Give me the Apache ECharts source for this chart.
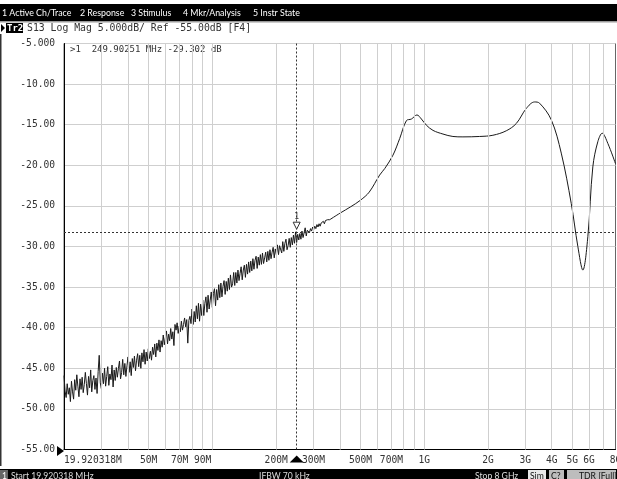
<!DOCTYPE html>
<html><head><meta charset="utf-8">
<script src="https://cdn.jsdelivr.net/npm/echarts@6/dist/echarts.min.js"></script>
<style>html,body{margin:0;padding:0;background:#fff;overflow:hidden}#c{width:617px;height:479px}</style>
</head><body><div id="c"></div>
<script>
// ---- sweep / axis definitions ----
const startHz = 19920318;
const stopHz = 8e9;
const gridFreqs = [30e6,40e6,50e6,60e6,70e6,80e6,90e6,100e6,200e6,300e6,400e6,500e6,600e6,700e6,800e6,900e6,1e9,2e9,3e9,4e9,5e9,6e9,7e9];
const labelFreqs = [19920318,50e6,70e6,90e6,200e6,300e6,500e6,700e6,1e9,2e9,3e9,4e9,5e9,6e9,8e9];
const labelTexts = ['19.920318M','50M','70M','90M','200M','300M','500M','700M','1G','2G','3G','4G','5G','6G','8G'];
const yMin = -55, yMax = -5, yStep = 5;

// ---- trace: noisy low-frequency segment, on a log sweep grid ----
const noiseStartMHz = 19.920318, noiseStopMHz = 358;
const noiseDb = [
-45.9,-47.8,-48.6,-46.9,-48.2,-47.4,-49.1,-46.6,-47.9,-48.8,
-46.4,-47.7,-45.8,-47.2,-48.5,-46.3,-47.6,-46.1,-48.0,-47.0,
-45.5,-46.9,-48.3,-46.0,-47.4,-45.2,-47.9,-46.5,-45.9,-47.6,
-46.2,-48.1,-45.4,-43.4,-46.8,-47.5,-45.6,-46.9,-45.0,-47.2,
-46.0,-44.8,-47.1,-45.7,-46.4,-44.6,-47.3,-45.2,-46.5,-44.9,
-46.1,-45.0,-44.1,-46.3,-45.5,-43.9,-45.8,-44.4,-46.0,-44.7,
-43.6,-45.5,-44.2,-45.9,-43.8,-44.9,-43.5,-45.3,-44.0,-43.2,
-44.8,-43.4,-45.0,-43.1,-44.2,-42.7,-44.5,-43.0,-44.1,-42.6,
-43.8,-42.9,-44.0,-42.4,-43.3,-42.0,-43.6,-41.9,-42.8,-41.5,
-43.0,-41.6,-42.4,-40.9,-42.1,-41.2,-40.4,-42.0,-40.8,-41.6,
-40.1,-41.4,-40.5,-42.2,-39.6,-40.3,-39.4,-40.7,-39.8,-40.5,
-39.2,-40.3,-39.6,-38.8,-39.9,-39.0,-41.9,-39.1,-38.6,-39.5,
-37.7,-39.6,-38.0,-39.3,-37.3,-38.9,-37.0,-39.2,-37.1,-38.5,
-36.6,-38.5,-37.0,-36.2,-38.1,-36.0,-37.7,-36.6,-35.6,-37.5,
-35.8,-35.2,-37.3,-35.3,-36.6,-34.7,-36.3,-34.5,-36.2,-34.9,
-34.2,-35.9,-34.3,-35.5,-33.9,-35.3,-33.5,-35.0,-34.6,-33.2,
-34.8,-33.2,-34.5,-32.9,-34.2,-33.3,-32.5,-34.1,-32.9,-32.3,
-33.8,-32.2,-33.4,-31.9,-33.2,-31.8,-33.0,-31.5,-32.8,-31.7,
-31.2,-32.7,-31.3,-32.3,-31.0,-32.2,-30.8,-32.1,-31.4,-30.7,
-31.9,-30.6,-31.7,-30.4,-31.5,-30.7,-30.1,-31.4,-30.3,-31.0,
-29.8,-31.0,-29.9,-30.1,-30.8,-29.4,-30.6,-29.6,-29.1,-30.4,
-29.9,-29.0,-30.1,-28.9,-29.8,-28.6,-29.6,-28.2,-29.5,-28.5,
-29.2,-28.4,-29.1,-28.1,-28.9,-28.3,-27.7,-28.7,-28.0,-27.8,
-28.3,-27.8,-28.1,-27.6,-27.9,-27.5,-27.8,-27.3,-27.6,-27.2,
-27.5,-27.1,-27.3,-26.9,-27.2,-26.8,-27.0,-26.7,-26.9,-26.7
];

// ---- trace: smooth upper segment (MHz, dB) ----
const smoothMHz = [358,400,450,500,550,616,651,712,766,824,870,924,970,1023,1100,1226,1366,1523,1826,2110,2440,2721,3033,3319,3504,3980,4436,4945,5313,5609,5922,6252,6600,6923,7360,8000];
const smoothDb  = [-26.7,-25.9,-25.1,-24.3,-23.3,-21.2,-20.4,-18.75,-16.7,-14.5,-14.3,-13.8,-14.3,-15.05,-15.7,-16.15,-16.45,-16.5,-16.45,-16.3,-15.75,-14.85,-13.0,-12.2,-12.35,-14.4,-18.5,-24.7,-30.0,-32.9,-28.8,-20.2,-17.1,-16.05,-17.3,-19.8];

// ---- marker ----
const markerHz = 249.90251e6;
const markerDb = -29.302;
const markerLineDb = -28.3;

const mono = 'DejaVu Sans Mono';
const sans = 'Lato';

const n = noiseDb.length;
const noiseData = noiseDb.map((v, i) => {
  const lf = Math.log10(noiseStartMHz) + (Math.log10(noiseStopMHz) - Math.log10(noiseStartMHz)) * i / (n - 1);
  return [Math.pow(10, lf) * 1e6, v];
});
const smoothData = smoothMHz.map((m, i) => [m * 1e6, smoothDb[i]]);

function xLabel(v) {
  let best = 0, bd = Infinity;
  labelFreqs.forEach((f, i) => { const d = Math.abs(Math.log10(v) - Math.log10(f)); if (d < bd) { bd = d; best = i; } });
  return labelTexts[best];
}

const chart = echarts.init(document.getElementById('c'), null, {renderer: 'canvas'});
const menu = [['1 Active Ch/Trace', 2], ['2 Response', 80], ['3 Stimulus', 131], ['4 Mkr/Analysis', 183], ['5 Instr State', 253]];
const stat = '8.6px ' + sans;
const graphics = [
  {type: 'rect', shape: {x: 0, y: 4, width: 617, height: 17}, style: {fill: '#000'}},
  {type: 'rect', shape: {x: 0, y: 21, width: 617, height: 1.5}, style: {fill: '#9a9a9a'}},
  {type: 'rect', shape: {x: 0, y: 34, width: 1.5, height: 432}, style: {fill: '#333'}},
  {type: 'polygon', shape: {points: [[1, 24], [5, 28], [1, 32]]}, style: {fill: '#000'}},
  {type: 'rect', shape: {x: 6, y: 23, width: 17, height: 10}, style: {fill: '#000'}},
  {type: 'text', x: 7, y: 28.5, style: {text: 'Tr2', fill: '#fff', font: 'bold 9px ' + mono, verticalAlign: 'middle'}},
  {type: 'text', x: 27, y: 28.5, style: {text: 'S13 Log Mag 5.000dB/ Ref -55.00dB [F4]', fill: '#333', font: '9.8px ' + mono, verticalAlign: 'middle'}},
  {type: 'text', x: 70, y: 50, style: {text: '>1  ' + (markerHz / 1e6).toFixed(5) + ' MHz ' + markerDb.toFixed(3) + ' dB', fill: '#333', font: '9px ' + mono, verticalAlign: 'middle'}},
  {type: 'rect', shape: {x: 0, y: 469, width: 617, height: 10}, style: {fill: '#000'}},
  {type: 'rect', shape: {x: 0, y: 470, width: 8, height: 9}, style: {fill: '#666'}},
  {type: 'text', x: 2, y: 476.5, style: {text: '1', fill: '#fff', font: stat, verticalAlign: 'middle'}},
  {type: 'text', x: 11, y: 476.5, style: {text: 'Start 19.920318 MHz', fill: '#ddd', font: stat, verticalAlign: 'middle'}},
  {type: 'text', x: 259, y: 476.5, style: {text: 'IFBW 70 kHz', fill: '#ddd', font: stat, verticalAlign: 'middle'}},
  {type: 'text', x: 475, y: 476.5, style: {text: 'Stop 8 GHz', fill: '#ddd', font: stat, verticalAlign: 'middle'}},
  {type: 'rect', shape: {x: 528, y: 470, width: 18, height: 9}, style: {fill: '#e8e8e8'}},
  {type: 'text', x: 530, y: 476.5, style: {text: 'Sim', fill: '#111', font: stat, verticalAlign: 'middle'}},
  {type: 'rect', shape: {x: 549, y: 470, width: 15, height: 9}, style: {fill: '#bdbdbd'}},
  {type: 'text', x: 551, y: 476.5, style: {text: 'C?', fill: '#111', font: stat, verticalAlign: 'middle'}},
  {type: 'rect', shape: {x: 567, y: 470, width: 49, height: 9}, style: {fill: '#bdbdbd'}},
  {type: 'text', x: 579, y: 476.5, style: {text: 'TDR [Full]', fill: '#111', font: stat, verticalAlign: 'middle'}}
];
menu.forEach(([t, x]) => graphics.push({type: 'text', x: x, y: 13, style: {text: t, fill: '#fff', font: '8.8px ' + sans, verticalAlign: 'middle'}}));

chart.setOption({
  animation: false,
  backgroundColor: '#fff',
  grid: {left: 64, right: 1.5, top: 43.5, bottom: 29.5, show: true, borderColor: '#666', borderWidth: 1, backgroundColor: '#fff', containLabel: false, outerBoundsMode: 'none'},
  xAxis: {
    type: 'log', logBase: 10, min: startHz, max: stopHz,
    axisLine: {show: true, onZero: false, lineStyle: {color: '#000', width: 1}},
    axisTick: {show: false},
    splitLine: {show: false},
    axisLabel: {customValues: labelFreqs, interval: 0, formatter: xLabel, fontFamily: mono, fontSize: 9.6, color: '#333', margin: 6, alignMinLabel: 'left', showMinLabel: true, showMaxLabel: true, hideOverlap: false}
  },
  yAxis: {
    type: 'value', min: yMin, max: yMax, interval: yStep,
    axisLine: {show: true, lineStyle: {color: '#000', width: 1}},
    axisTick: {show: false},
    splitLine: {show: true, lineStyle: {color: '#cfcfcf', width: 1}},
    axisLabel: {formatter: v => v.toPrecision(4), fontFamily: mono, fontSize: 9.6, color: '#333', margin: 9}
  },
  series: [
    {type: 'line', data: [], silent: true, z: 1,
     markLine: {silent: true, symbol: 'none', animation: false, label: {show: false},
       lineStyle: {color: '#cfcfcf', type: 'solid', width: 1},
       data: gridFreqs.map(f => ({xAxis: f}))}},
    {type: 'line', data: noiseData, showSymbol: false, symbol: 'none', z: 3,
     lineStyle: {color: '#1a1a1a', width: 1}},
    {type: 'line', data: smoothData, showSymbol: false, symbol: 'none', smooth: 0.35, z: 3,
     lineStyle: {color: '#1a1a1a', width: 1}},
    {type: 'line', data: [], z: 4,
     markLine: {silent: true, symbol: 'none', animation: false, label: {show: false},
       lineStyle: {color: '#333', type: [2, 2], width: 1},
       data: [{xAxis: markerHz}, {yAxis: markerLineDb}]},
     markPoint: {silent: true, animation: false,
       data: [
         {coord: [markerHz, markerLineDb], symbol: 'path://M0,0L10,0L5,9Z', symbolSize: [7, 7], symbolOffset: [0, -7],
          itemStyle: {color: '#fff', borderColor: '#333', borderWidth: 1},
          label: {show: true, position: 'top', distance: 1, formatter: '1', fontFamily: mono, fontSize: 8, color: '#333'}},
         {coord: [markerHz, yMin], symbol: 'path://M5,0L10,7L0,7Z', symbolSize: [14, 7], symbolOffset: [0, 9.5],
          itemStyle: {color: '#000'}, label: {show: false}},
         {coord: [startHz, yMin], symbol: 'path://M0,0L7,5L0,10Z', symbolSize: [7, 10], symbolOffset: [-3.5, 1.5],
          itemStyle: {color: '#000'}, label: {show: false}}
       ]}}
  ],
  graphic: graphics
});
</script></body></html>
